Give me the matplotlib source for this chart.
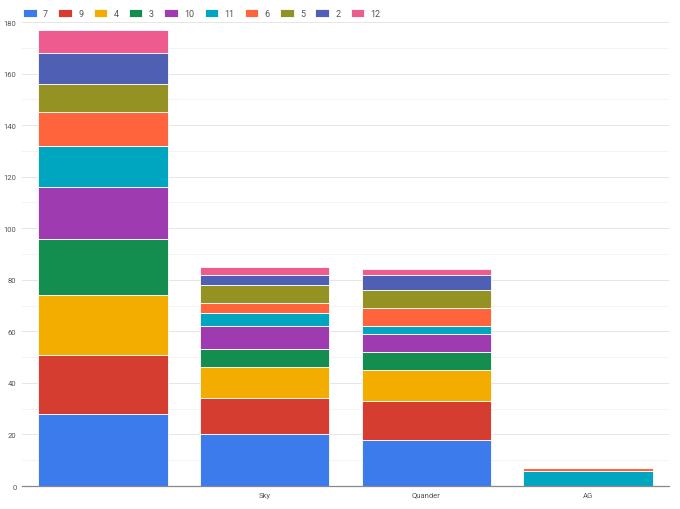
import numpy as np
import matplotlib.pyplot as plt

categories = ['', 'Sky', 'Quander', 'AG']
series_names = ['7', '9', '4', '3', '10', '11', '6', '5', '2', '12']
s7 = [28, 20, 18, 0]
s9 = [23, 14, 15, 0]
s4 = [23, 12, 12, 0]
s3 = [22, 7, 7, 0]
s10 = [20, 9, 7, 0]
s11 = [16, 5, 3, 6]
s6 = [13, 4, 7, 1]
s5 = [11, 7, 7, 0]
s2 = [12, 4, 6, 0]
s12 = [9, 3, 2, 0]
series_values = [s7, s9, s4, s3, s10, s11, s6, s5, s2, s12]
colors = ['#3b7bec', '#d43d30', '#f2ad00', '#138e4e', '#9e3bb0',
          '#00a6bf', '#ff643c', '#949223', '#4f5fb4', '#ee5b8e']

plt.rcParams['font.family'] = ['Roboto', 'DejaVu Sans']

fig = plt.figure(figsize=(6.8, 5.1), dpi=100)
ax = fig.add_axes([22 / 680, 1 - 487 / 510, (669 - 22) / 680, (487 - 23) / 510])

x = np.arange(len(categories))
bottom = np.zeros(len(categories))
for name, vals, c in zip(series_names, series_values, colors):
    vals = np.array(vals, dtype=float)
    ax.bar(x, vals, width=0.8, bottom=bottom, color=c, edgecolor='white',
           linewidth=0.6, label=name, zorder=3)
    bottom += vals

ax.set_xlim(-0.5, len(categories) - 0.5)
ax.set_ylim(0, 180)
ax.set_yticks(np.arange(0, 181, 20))
ax.set_yticks(np.arange(10, 180, 20), minor=True)
ax.set_xticks(x)
ax.set_xticklabels(categories)
ax.tick_params(axis='both', length=0, labelsize=5.5, colors='#555555', pad=4)
ax.tick_params(axis='y', which='minor', length=0)
ax.grid(axis='y', which='major', color='#e6e6e6', linewidth=0.7, zorder=0)
ax.grid(axis='y', which='minor', color='#f3f3f3', linewidth=0.7, zorder=0)
for side in ['top', 'right', 'left']:
    ax.spines[side].set_visible(False)
ax.spines['bottom'].set_color('#888888')
ax.spines['bottom'].set_linewidth(0.9)
ax.spines['bottom'].set_zorder(4)

fig.legend(loc='upper left', bbox_to_anchor=(0.022, 0.996), ncol=len(series_names),
           frameon=False, fontsize=6.5, handlelength=1.5, handleheight=0.9,
           handletextpad=0.7, columnspacing=1.15, labelcolor='#555555')

fig.savefig('out.png', dpi=100)
